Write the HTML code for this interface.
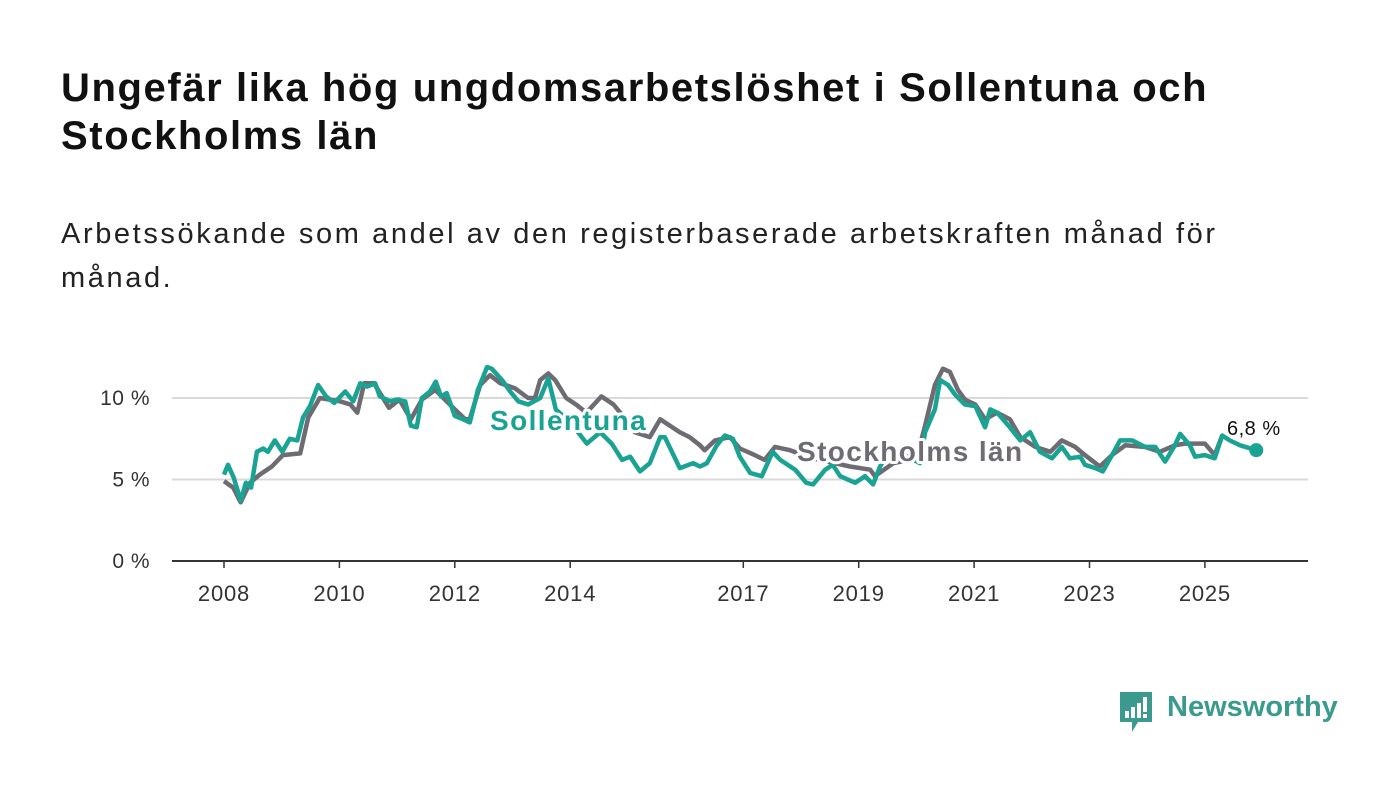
<!DOCTYPE html>
<html><head><meta charset="utf-8">
<style>
html,body{margin:0;padding:0;background:#fff;}
body{width:1400px;height:794px;overflow:hidden;font-family:"Liberation Sans",sans-serif;position:relative;}
h1{position:absolute;left:61px;top:64px;margin:0;font-size:40px;line-height:48px;font-weight:bold;color:#111;letter-spacing:1.6px;white-space:nowrap;}
p.sub{position:absolute;left:61px;top:212px;margin:0;font-size:29px;line-height:44px;color:#222;letter-spacing:2.6px;white-space:nowrap;}
svg{position:absolute;left:0;top:0;}
</style></head><body>
<h1>Ungefär lika hög ungdomsarbetslöshet i Sollentuna och<br>Stockholms län</h1>
<p class="sub">Arbetssökande som andel av den registerbaserade arbetskraften månad för<br>månad.</p>
<svg id="chart" width="1400" height="794"></svg>
<div style="position:absolute;left:1118px;top:691px;">
<svg width="36" height="44" viewBox="0 0 36 44" style="position:static">
<path d="M2 1h32v30H20l-6 10v-10H2z" fill="#3a9a8e"/>
<rect x="7" y="20" width="4" height="7" fill="#fff"/><rect x="13" y="16" width="4" height="11" fill="#fff"/><rect x="19" y="12" width="4" height="15" fill="#fff"/><rect x="25" y="6" width="4" height="15" fill="#fff"/><rect x="25" y="23" width="4" height="4" fill="#fff"/>
</svg>
<span style="position:absolute;left:49px;top:0px;font-size:29px;font-weight:bold;color:#3a9a8e;white-space:nowrap;">Newsworthy</span>
</div>
<script>
const xTickYears=[2008,2010,2012,2014,2017,2019,2021,2023,2025];
const yTicks=[0,5,10];
const yTickLabels=["0 %","5 %","10 %"];
const sollDates=[2008.00,2008.07,2008.17,2008.29,2008.38,2008.47,2008.57,2008.68,2008.76,2008.88,2009.01,2009.14,2009.27,2009.37,2009.49,2009.63,2009.77,2009.91,2010.10,2010.24,2010.36,2010.48,2010.62,2010.70,2010.88,2011.00,2011.14,2011.24,2011.34,2011.43,2011.57,2011.67,2011.76,2011.86,2012.00,2012.14,2012.26,2012.40,2012.56,2012.64,2012.82,2012.96,2013.10,2013.27,2013.48,2013.62,2013.75,2014.00,2014.29,2014.52,2014.72,2014.90,2015.04,2015.21,2015.38,2015.56,2015.64,2015.90,2016.13,2016.25,2016.37,2016.54,2016.68,2016.82,2016.94,2017.12,2017.32,2017.51,2017.64,2017.90,2018.09,2018.21,2018.42,2018.55,2018.68,2018.94,2019.11,2019.25,2019.37,2019.54,2019.80,2020.06,2020.15,2020.32,2020.41,2020.55,2020.67,2020.84,2021.02,2021.19,2021.28,2021.40,2021.62,2021.80,2021.97,2022.14,2022.35,2022.52,2022.66,2022.84,2022.92,2023.10,2023.23,2023.39,2023.53,2023.74,2023.96,2024.14,2024.31,2024.48,2024.57,2024.74,2024.83,2025.00,2025.17,2025.30,2025.43,2025.61,2025.89];
const sollValues=[5.3,5.9,5.1,3.7,4.8,4.5,6.7,6.9,6.7,7.4,6.7,7.5,7.4,8.8,9.5,10.8,10.1,9.7,10.4,9.8,10.9,10.7,10.9,10.1,9.8,9.9,9.8,8.3,8.2,10.0,10.4,11.0,10.1,10.3,8.9,8.7,8.5,10.5,11.9,11.8,11.1,10.4,9.8,9.6,10.0,11.2,9.3,8.5,7.2,7.9,7.2,6.2,6.4,5.5,6.0,7.6,7.6,5.7,6.0,5.8,6.0,7.1,7.7,7.5,6.4,5.4,5.2,6.7,6.2,5.6,4.8,4.7,5.6,5.9,5.2,4.8,5.2,4.7,5.8,6.8,6.5,6.0,7.9,9.3,11.1,10.8,10.2,9.6,9.5,8.2,9.3,9.1,8.2,7.4,7.9,6.7,6.3,7.0,6.3,6.4,5.9,5.7,5.5,6.5,7.4,7.4,7.0,7.0,6.1,7.1,7.8,7.1,6.4,6.5,6.3,7.7,7.4,7.1,6.8];
const sthlmDates=[2008.00,2008.16,2008.29,2008.45,2008.62,2008.83,2009.02,2009.32,2009.46,2009.66,2010.01,2010.19,2010.31,2010.43,2010.60,2010.86,2011.04,2011.24,2011.43,2011.66,2011.83,2012.00,2012.18,2012.26,2012.44,2012.61,2012.79,2013.04,2013.27,2013.39,2013.48,2013.62,2013.74,2013.93,2014.10,2014.28,2014.54,2014.75,2014.89,2015.12,2015.38,2015.56,2015.73,2015.90,2016.07,2016.25,2016.33,2016.51,2016.77,2016.94,2017.20,2017.37,2017.55,2017.81,2018.20,2018.85,2019.20,2019.28,2019.60,2020.00,2020.15,2020.32,2020.46,2020.58,2020.72,2020.84,2021.02,2021.19,2021.40,2021.62,2021.80,2022.06,2022.32,2022.52,2022.75,2022.92,2023.18,2023.39,2023.62,2023.96,2024.22,2024.48,2024.65,2025.00,2025.17,2025.30];
const sthlmValues=[4.9,4.5,3.6,4.8,5.3,5.8,6.5,6.6,8.8,10.0,9.8,9.6,9.1,10.9,10.9,9.4,9.9,8.7,9.9,10.5,9.9,9.3,8.7,8.7,10.8,11.4,10.9,10.6,10.0,10.0,11.1,11.5,11.1,10.0,9.6,9.1,10.1,9.6,9.0,7.9,7.6,8.7,8.3,7.9,7.6,7.1,6.8,7.4,7.6,6.9,6.5,6.2,7.0,6.8,6.3,5.8,5.6,5.2,6.0,6.3,8.3,10.8,11.8,11.6,10.5,9.9,9.6,8.7,9.1,8.7,7.6,7.0,6.7,7.4,7.0,6.5,5.8,6.5,7.1,7.0,6.7,7.1,7.2,7.2,6.5,7.7];

const svg=document.getElementById('chart');
const NS='http://www.w3.org/2000/svg';
const x=d=>224+(d-2008)*57.7;
const y=v=>561-v*16.3;
function mk(tag,attrs,parent){const e=document.createElementNS(NS,tag);for(const k in attrs)e.setAttribute(k,attrs[k]);(parent||svg).appendChild(e);return e;}

yTicks.forEach((t,i)=>{
  if(t>0){const g=mk('line',{x1:172,x2:1308,y1:y(t),y2:y(t),stroke:'#d9d9d9','stroke-width':2});
  
  }
  const l=mk('text',{x:150,y:y(t)+7,'text-anchor':'end','font-size':21,fill:'#333','font-family':'Liberation Sans, sans-serif','letter-spacing':0.5});
  l.textContent=yTickLabels[i];
  
  
});
const ax=mk('line',{x1:172,x2:1308,y1:561,y2:561,stroke:'#333','stroke-width':2});


xTickYears.forEach(yr=>{
  const tk=mk('line',{x1:x(yr),x2:x(yr),y1:561,y2:568,stroke:'#333','stroke-width':1.5});
  
  
  const l=mk('text',{x:x(yr),y:601,'text-anchor':'middle','font-size':22,fill:'#333','font-family':'Liberation Sans, sans-serif','letter-spacing':0.8});
  l.textContent=yr;
  
  
});
function path(ds,vs){return ds.map((d,i)=>(i?'L':'M')+x(d).toFixed(1)+' '+y(vs[i]).toFixed(1)).join(' ');}
const g1=mk('path',{d:path(sthlmDates,sthlmValues),fill:'none',stroke:'#6e6c72','stroke-width':4.5,'stroke-linejoin':'round'});


const g2=mk('path',{d:path(sollDates,sollValues),fill:'none',stroke:'#1aa393','stroke-width':4.5,'stroke-linejoin':'round'});


const ld=sollDates.length-1;
const dot=mk('circle',{cx:x(sollDates[ld]),cy:y(sollValues[ld]),r:7,fill:'#1aa393'});


function label(txt,px,py,col,size,bold,ls,name){
  const t=mk('text',{x:px,y:py,'font-size':size,'font-weight':bold?'bold':'normal',fill:col,stroke:'#fff','stroke-width':6,'paint-order':'stroke','stroke-linejoin':'round','font-family':'Liberation Sans, sans-serif','letter-spacing':ls});
  t.textContent=txt;
  
  
}
label('Sollentuna',490,430,'#1aa393',28,true,1.4,'sollentuna-label');
label('Stockholms län',797,461,'#6e6c72',28,true,1.4,'stockholms-lan-label');
label('6,8 %',1227,435,'#111',20,false,0.5,'last-value-label');
</script>
</body></html>
